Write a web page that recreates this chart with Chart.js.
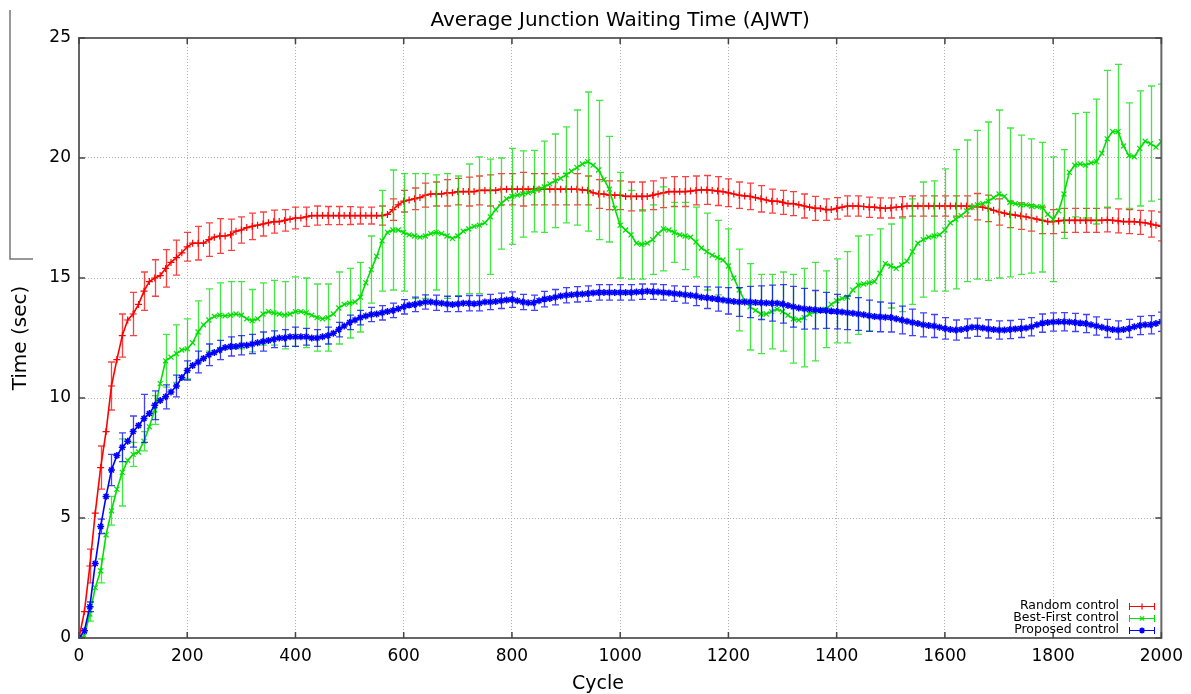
<!DOCTYPE html>
<html>
<head>
<meta charset="utf-8">
<script src="https://cdn.jsdelivr.net/npm/chart.js@4.4.1/dist/chart.umd.min.js"></script>
<style>
html,body{margin:0;padding:0;background:#fff}
</style>
</head>
<body>
<canvas id="c" width="1191" height="694"></canvas>
<script>
// cycle values (x), one every 10 cycles
const cycles=[0,10,20,30,40,50,60,70,80,90,100,110,120,130,140,150,160,170,180,190,200,
210,220,230,240,250,260,270,280,290,300,310,320,330,340,350,360,370,380,390,400,
410,420,430,440,450,460,470,480,490,500,510,520,530,540,550,560,570,580,590,600,
610,620,630,640,650,660,670,680,690,700,710,720,730,740,750,760,770,780,790,800,
810,820,830,840,850,860,870,880,890,900,910,920,930,940,950,960,970,980,990,1000,
1010,1020,1030,1040,1050,1060,1070,1080,1090,1100,1110,1120,1130,1140,1150,1160,1170,1180,1190,1200,
1210,1220,1230,1240,1250,1260,1270,1280,1290,1300,1310,1320,1330,1340,1350,1360,1370,1380,1390,1400,
1410,1420,1430,1440,1450,1460,1470,1480,1490,1500,1510,1520,1530,1540,1550,1560,1570,1580,1590,1600,
1610,1620,1630,1640,1650,1660,1670,1680,1690,1700,1710,1720,1730,1740,1750,1760,1770,1780,1790,1800,
1810,1820,1830,1840,1850,1860,1870,1880,1890,1900,1910,1920,1930,1940,1950,1960,1970,1980,1990,2000]

const randomMean=[0,1.1,3.0,5.2,7.1,8.6,10.5,11.6,12.6,13.25,13.5,
13.9,14.45,14.85,15.0,15.1,15.4,15.65,15.85,16.05,16.3,
16.45,16.45,16.45,16.6,16.7,16.75,16.75,16.8,16.95,17.0,
17.1,17.15,17.2,17.25,17.3,17.35,17.35,17.4,17.45,17.5,
17.5,17.55,17.6,17.6,17.6,17.6,17.6,17.6,17.6,17.6,
17.6,17.6,17.6,17.6,17.6,17.6,17.65,17.85,18.05,18.2,
18.25,18.3,18.35,18.45,18.5,18.5,18.5,18.55,18.55,18.6,
18.6,18.6,18.6,18.65,18.65,18.65,18.65,18.7,18.7,18.7,
18.7,18.7,18.7,18.7,18.7,18.7,18.7,18.7,18.7,18.7,
18.7,18.7,18.67,18.65,18.55,18.5,18.5,18.45,18.45,18.45,
18.4,18.4,18.4,18.4,18.4,18.45,18.5,18.55,18.6,18.6,
18.6,18.6,18.62,18.65,18.67,18.67,18.65,18.62,18.6,18.55,
18.5,18.45,18.42,18.4,18.35,18.3,18.25,18.2,18.2,18.15,
18.1,18.1,18.05,18.0,17.95,17.9,17.9,17.85,17.85,17.9,
17.95,18.0,18.0,18.0,17.98,17.95,17.95,17.92,17.9,17.92,
17.95,17.97,18.0,18.0,18.0,18.0,18.0,18.0,18.0,18.0,
18.0,18.0,18.0,18.0,17.97,17.97,17.95,17.9,17.82,17.75,
17.7,17.65,17.62,17.58,17.55,17.5,17.45,17.4,17.35,17.35,
17.38,17.4,17.4,17.4,17.4,17.4,17.4,17.4,17.4,17.42,
17.4,17.38,17.35,17.35,17.35,17.32,17.3,17.25,17.2,17.15]

const bestFirstMean=[0,0.1,1.0,2.1,2.8,4.3,5.3,6.2,6.9,7.4,7.65,
7.75,8.2,8.8,9.5,10.6,11.55,11.7,11.85,12.0,12.05,
12.3,12.75,13.05,13.25,13.4,13.45,13.42,13.45,13.5,13.45,
13.3,13.22,13.3,13.5,13.6,13.55,13.5,13.45,13.5,13.6,
13.6,13.55,13.45,13.35,13.3,13.35,13.5,13.75,13.9,13.95,
14.0,14.2,14.8,15.35,15.9,16.55,16.9,17.0,17.0,16.9,
16.8,16.75,16.7,16.75,16.85,16.9,16.85,16.75,16.65,16.75,
16.95,17.05,17.15,17.2,17.3,17.55,17.85,18.1,18.3,18.4,
18.45,18.5,18.55,18.62,18.7,18.8,18.92,19.05,19.15,19.3,
19.45,19.6,19.75,19.85,19.7,19.5,19.1,18.7,17.9,17.2,
17.0,16.8,16.45,16.4,16.45,16.6,16.85,17.05,17.0,16.9,
16.8,16.75,16.7,16.5,16.25,16.1,15.95,15.85,15.75,15.5,
15.0,14.5,14.05,13.8,13.65,13.5,13.5,13.6,13.7,13.6,
13.45,13.3,13.25,13.35,13.5,13.6,13.65,13.7,13.9,14.05,
14.15,14.2,14.5,14.7,14.75,14.8,14.85,15.2,15.6,15.5,
15.4,15.55,15.7,16.1,16.45,16.6,16.7,16.75,16.8,17.0,
17.3,17.45,17.6,17.8,17.95,18.05,18.1,18.2,18.35,18.5,
18.4,18.15,18.1,18.05,18.05,18.0,17.97,17.95,17.65,17.45,
17.8,18.5,19.4,19.7,19.75,19.7,19.8,19.85,20.2,20.8,
21.1,21.1,20.5,20.1,20.05,20.4,20.7,20.6,20.45,20.68]

const proposedMean=[0,0.3,1.3,3.1,4.65,5.9,7.0,7.6,7.95,8.2,8.6,
8.85,9.15,9.35,9.7,9.9,10.05,10.25,10.5,10.85,11.15,
11.35,11.5,11.65,11.8,11.9,12.0,12.1,12.15,12.15,12.2,
12.2,12.25,12.3,12.35,12.4,12.45,12.5,12.5,12.55,12.55,
12.55,12.55,12.5,12.5,12.55,12.6,12.7,12.85,13.0,13.15,
13.25,13.35,13.42,13.48,13.5,13.55,13.6,13.65,13.72,13.8,
13.87,13.9,13.95,14.0,14.0,13.97,13.95,13.92,13.9,13.92,
13.95,13.95,13.93,13.95,14.0,14.0,14.02,14.05,14.08,14.1,
14.05,14.0,13.97,13.97,14.05,14.12,14.15,14.2,14.25,14.28,
14.3,14.32,14.33,14.35,14.38,14.4,14.4,14.4,14.4,14.4,
14.4,14.4,14.42,14.43,14.45,14.43,14.42,14.4,14.38,14.35,
14.33,14.3,14.28,14.25,14.2,14.18,14.15,14.12,14.08,14.05,
14.02,14.0,14.0,14.0,13.98,13.97,13.96,13.95,13.95,13.92,
13.85,13.8,13.75,13.72,13.7,13.68,13.66,13.65,13.62,13.6,
13.58,13.55,13.53,13.5,13.47,13.43,13.4,13.38,13.36,13.35,
13.3,13.25,13.2,13.15,13.1,13.05,13.02,13.0,12.95,12.9,
12.85,12.83,12.85,12.9,12.95,12.95,12.92,12.88,12.85,12.83,
12.83,12.85,12.88,12.9,12.92,12.97,13.05,13.12,13.15,13.17,
13.18,13.18,13.17,13.15,13.12,13.1,13.05,13.0,12.95,12.9,
12.85,12.83,12.85,12.9,12.97,13.02,13.05,13.05,13.1,13.18]

// error bar half widths, one every 20 cycles (every second point)
const randomErr=[0,0.7,0.9,1.0,0.9,0.9,0.8,0.76,0.78,0.73,0.6,
0.7,0.7,0.72,0.65,0.55,0.55,0.5,0.48,0.45,0.45,
0.4,0.4,0.38,0.38,0.37,0.35,0.35,0.4,0.45,0.45,
0.45,0.5,0.5,0.55,0.55,0.6,0.6,0.65,0.65,0.65,
0.7,0.65,0.65,0.65,0.65,0.65,0.6,0.6,0.6,0.6,
0.6,0.6,0.6,0.62,0.62,0.62,0.6,0.6,0.6,0.58,
0.55,0.55,0.55,0.5,0.5,0.5,0.5,0.5,0.45,0.45,
0.42,0.42,0.42,0.42,0.42,0.42,0.42,0.42,0.42,0.42,
0.42,0.42,0.55,0.55,0.55,0.55,0.55,0.55,0.55,0.5,
0.5,0.5,0.5,0.5,0.5,0.5,0.5,0.5,0.55,0.6]

const bestFirstErr=[0,0.3,0.5,0.6,1.4,0.5,0.4,0.6,1.1,1.2,1.25,
1.3,1.3,1.35,1.4,1.4,1.3,1.3,1.35,1.4,1.45,
1.45,1.4,1.4,1.5,1.45,1.45,1.4,2.1,2.5,2.45,
2.6,2.6,2.4,2.6,2.5,2.7,2.85,2.4,1.9,2.0,
1.8,1.7,1.9,1.95,2.0,2.4,2.9,2.9,2.2,2.2,
1.85,1.45,1.45,1.75,1.25,1.4,1.45,1.6,1.55,1.55,
1.7,1.8,1.65,1.55,1.65,1.85,2.05,2.05,1.6,1.75,
1.9,2.05,2.0,1.85,1.75,1.95,2.2,2.4,2.3,2.55,
2.9,2.95,3.1,3.3,3.5,3.1,2.9,2.8,2.7,2.6,
1.85,2.15,2.2,2.6,2.85,2.8,2.2,2.4,2.4,2.4]

const proposedErr=[0,0.2,0.3,0.65,0.6,0.65,1.0,0.6,0.5,0.45,0.4,
0.45,0.45,0.4,0.4,0.4,0.4,0.4,0.35,0.35,0.4,
0.35,0.35,0.35,0.3,0.3,0.3,0.3,0.3,0.3,0.3,
0.3,0.3,0.32,0.32,0.32,0.32,0.32,0.32,0.32,0.32,
0.32,0.32,0.32,0.32,0.32,0.32,0.32,0.32,0.32,0.32,
0.32,0.32,0.32,0.32,0.32,0.35,0.4,0.45,0.5,0.55,
0.6,0.65,0.7,0.75,0.8,0.85,0.85,0.8,0.75,0.72,
0.7,0.68,0.65,0.62,0.6,0.58,0.55,0.5,0.48,0.45,
0.42,0.4,0.38,0.38,0.38,0.38,0.38,0.38,0.38,0.38,
0.38,0.38,0.38,0.38,0.38,0.38,0.38,0.38,0.38,0.4]

const titleText="Average Junction Waiting Time (AJWT)"
const xTitle="Cycle"
const FONT="'DejaVu Sans', 'Liberation Sans', sans-serif"

function series(label,vals,errs,color,style,order,bw){
return{
label:label,
data:vals.map((v,i)=>({x:cycles[i],y:v})),
errors:errs,
borderColor:color,
backgroundColor:color,
borderWidth:1.6,
showLine:true,
fill:false,
tension:0,
pointStyle:style,
pointRadius:3.5,
pointBorderWidth:bw,
pointBorderColor:color,
order:order
}
}

const errorBars={
id:"errorBars",
afterDatasetDraw(chart,args){
const ds=chart.data.datasets[args.index]
if(!ds.errors)return
const xs=chart.scales.x,ys=chart.scales.y,ctx=chart.ctx,a=chart.chartArea
ctx.save()
ctx.beginPath()
ctx.rect(a.left,a.top,a.right-a.left,a.bottom-a.top)
ctx.clip()
ctx.strokeStyle=ds.borderColor
ctx.globalAlpha=0.75
ctx.lineWidth=1.3
ctx.beginPath()
ds.errors.forEach((e,k)=>{
const p=ds.data[k*2]
if(!p||!e)return
const px=Math.round(xs.getPixelForValue(p.x))+0.5
const y1=ys.getPixelForValue(p.y+e),y2=ys.getPixelForValue(p.y-e)
ctx.moveTo(px,y1);ctx.lineTo(px,y2)
ctx.moveTo(px-3.5,y1);ctx.lineTo(px+3.5,y1)
ctx.moveTo(px-3.5,y2);ctx.lineTo(px+3.5,y2)
})
ctx.stroke()
ctx.restore()
}
}

const decor={
id:"decor",
afterDraw(chart){
const ctx=chart.ctx,a=chart.chartArea,xs=chart.scales.x,ys=chart.scales.y
ctx.save()
// frame
ctx.strokeStyle="#666"
ctx.lineWidth=2
ctx.strokeRect(a.left,a.top,a.right-a.left,a.bottom-a.top)
// inward ticks on all four sides
ctx.lineWidth=1.5
ctx.strokeStyle="#444"
ctx.beginPath()
xs.ticks.forEach(t=>{
const px=xs.getPixelForValue(t.value)
ctx.moveTo(px,a.bottom);ctx.lineTo(px,a.bottom-6)
ctx.moveTo(px,a.top);ctx.lineTo(px,a.top+6)
})
ys.ticks.forEach(t=>{
const py=ys.getPixelForValue(t.value)
ctx.moveTo(a.left,py);ctx.lineTo(a.left+6,py)
ctx.moveTo(a.right,py);ctx.lineTo(a.right-6,py)
})
ctx.stroke()
// stray line at the left edge
ctx.strokeStyle="#777"
ctx.lineWidth=1.5
ctx.beginPath()
ctx.moveTo(10,10);ctx.lineTo(10,259);ctx.lineTo(33,259)
ctx.stroke()
// title and x axis title
ctx.fillStyle="#000"
ctx.font="20px "+FONT
ctx.textAlign="center"
ctx.textBaseline="middle"
ctx.fillText(titleText,(a.left+a.right)/2,21)
ctx.font="19px "+FONT
ctx.fillText(xTitle,598,684)
// legend
const rows=[0,1,2]
ctx.font="12.5px "+FONT
ctx.textAlign="right"
rows.forEach(r=>{
const ds=chart.data.datasets[r]
const y=606+r*12
ctx.fillStyle="#000"
ctx.fillText(ds.label,1119,y)
ctx.strokeStyle=ds.borderColor
ctx.lineWidth=1
ctx.beginPath()
ctx.moveTo(1129,y+0.5);ctx.lineTo(1155,y+0.5)
ctx.moveTo(1129.5,y-3);ctx.lineTo(1129.5,y+4)
ctx.moveTo(1154.5,y-3);ctx.lineTo(1154.5,y+4)
ctx.stroke()
ctx.lineWidth=ds.pointBorderWidth
if(Chart.helpers&&Chart.helpers.drawPoint){
Chart.helpers.drawPoint(ctx,{pointStyle:ds.pointStyle,radius:3,rotation:0,borderWidth:ds.pointBorderWidth},1142,y+0.5)
}
})
ctx.restore()
}
}

new Chart(document.getElementById("c"),{
type:"line",
data:{datasets:[
series("Random control",randomMean,randomErr,"#ff0000","cross",3,1.2),
series("Best-First control",bestFirstMean,bestFirstErr,"#00e000","crossRot",2,1.2),
series("Proposed control",proposedMean,proposedErr,"#0000ff","star",1,1.5)
]},
options:{
responsive:false,
animation:false,
events:[],
layout:{padding:{top:38,right:25,left:0,bottom:0}},
plugins:{legend:{display:false},tooltip:{enabled:false},title:{display:false}},
scales:{
x:{
type:"linear",min:0,max:2000,
ticks:{stepSize:200,padding:8,color:"#000",font:{family:FONT,size:17},maxRotation:0,autoSkip:false,callback:v=>String(v)},
grid:{color:"#b0b0b0",lineWidth:1,drawTicks:false},
border:{display:false,dash:[1,2]},
afterFit(s){s.height=56}
},
y:{
type:"linear",min:0,max:25,
ticks:{stepSize:5,padding:8,color:"#000",font:{family:FONT,size:17},callback:v=>String(v)},
grid:{color:"#b0b0b0",lineWidth:1,drawTicks:false},
border:{display:false,dash:[1,2]},
title:{display:true,text:"Time (sec)",color:"#000",font:{family:FONT,size:20,lineHeight:1.2},padding:{top:9,bottom:0}},
afterFit(s){s.width=79}
}
}
},
plugins:[errorBars,decor]
})
</script>
</body>
</html>
